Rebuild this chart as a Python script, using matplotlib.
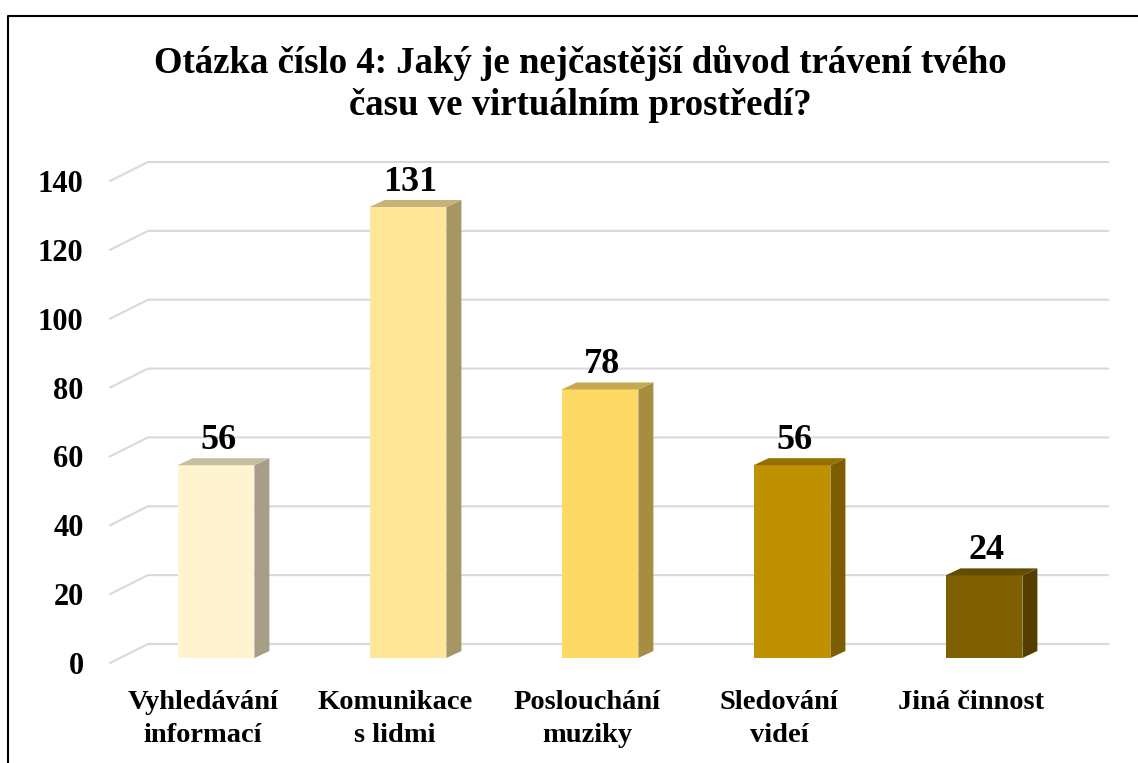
import matplotlib
matplotlib.use("Agg")
import matplotlib.pyplot as plt
from matplotlib.patches import Polygon
from matplotlib.lines import Line2D
from matplotlib.transforms import IdentityTransform, offset_copy

# data
categories = [
    "Vyhledávání\ninformací",
    "Komunikace\ns lidmi",
    "Poslouchání\nmuziky",
    "Sledování\nvideí",
    "Jiná činnost"
]
values = [56, 131, 78, 56, 24]
colors = ["#FFF3D0", "#FFE699", "#FFD966", "#BF9000", "#7F6000"]
yticks = [0, 20, 40, 60, 80, 100, 120, 140]
title = ("Otázka číslo 4: Jaký je nejčastější důvod trávení tvého\n"
         "času ve virtuálním prostředí?")

plt.rcParams["font.family"] = ["Liberation Serif", "DejaVu Serif"]
plt.rcParams["font.weight"] = "bold"

W, H = 1138, 763
fig = plt.figure(figsize=(W / 100, H / 100), dpi=100)
ax = fig.add_axes([110 / W, 100 / H, 960 / W, 482 / H])
ax.set_xlim(-0.5, len(values) - 0.5)
ax.set_ylim(0, 140)
ax.patch.set_visible(False)
for s in ax.spines.values():
    s.set_visible(False)
ax.set_xticks([])
ax.set_yticks(yticks)
ax.tick_params(axis="y", length=0, pad=19, labelsize=22)

# depth offsets in pixels
wall_dx, wall_dy = 38, 19
bar_dx, bar_dy = 10, 5
side_dx, side_dy = 15, 7
bar_w = 0.4
grid_c = "#D9D9D9"
ident = IdentityTransform()


def px(x, y, dx=0, dy=0):
    a, b = ax.transData.transform((x, y))
    return (a + dx, b + dy)


def shade(c, f):
    r, g, b = matplotlib.colors.to_rgb(c)
    return (r * f, g * f, b * f)


# back wall gridlines + left diagonals
for t in yticks:
    p0 = px(-0.5, t)
    p1 = px(-0.5, t, wall_dx, wall_dy)
    p2 = px(len(values) - 0.5, t, wall_dx, wall_dy)
    ax.add_line(Line2D([p0[0], p1[0], p2[0]], [p0[1], p1[1], p2[1]],
                       transform=ident, color=grid_c, lw=1.5,
                       clip_on=False, zorder=1))

# 3D bars
for i, (v, c) in enumerate(zip(values, colors)):
    l, r = i - bar_w / 2, i + bar_w / 2
    fl = px(l, 0, bar_dx, bar_dy)
    fr = px(r, 0, bar_dx, bar_dy)
    tl = px(l, v, bar_dx, bar_dy)
    tr = px(r, v, bar_dx, bar_dy)
    front = [fl, fr, tr, tl]
    side = [fr, (fr[0] + side_dx, fr[1] + side_dy),
            (tr[0] + side_dx, tr[1] + side_dy), tr]
    top = [tl, tr, (tr[0] + side_dx, tr[1] + side_dy),
           (tl[0] + side_dx, tl[1] + side_dy)]
    ax.add_patch(Polygon(front, closed=True, transform=ident,
                         facecolor=c, edgecolor="none",
                         clip_on=False, zorder=3))
    ax.add_patch(Polygon(side, closed=True, transform=ident,
                         facecolor=shade(c, 0.65), edgecolor="none",
                         clip_on=False, zorder=3))
    ax.add_patch(Polygon(top, closed=True, transform=ident,
                         facecolor=shade(c, 0.78), edgecolor="none",
                         clip_on=False, zorder=3))
    ax.text(i, v, str(v),
            transform=offset_copy(ax.transData, fig, x=12, y=21, units="dots"),
            ha="center", va="baseline", fontsize=26, fontweight="bold",
            zorder=5)

# category labels
for i, lab in enumerate(categories):
    ax.text(i, 0, lab,
            transform=offset_copy(ax.transData, fig, x=-3, y=-27, units="dots"),
            ha="center", va="top", fontsize=20.5, fontweight="bold",
            linespacing=1.4, zorder=5)

# title
fig.text(580 / W, 1 - 84 / H, title, ha="center", va="center",
         fontsize=26.5, fontweight="bold", linespacing=1.25)

# chart frame (left and top edges)
fig.add_artist(Line2D([8, 8, W], [0, H - 16, H - 16], transform=ident,
                      color="black", lw=1.5))

fig.savefig("out.png", dpi=100)
